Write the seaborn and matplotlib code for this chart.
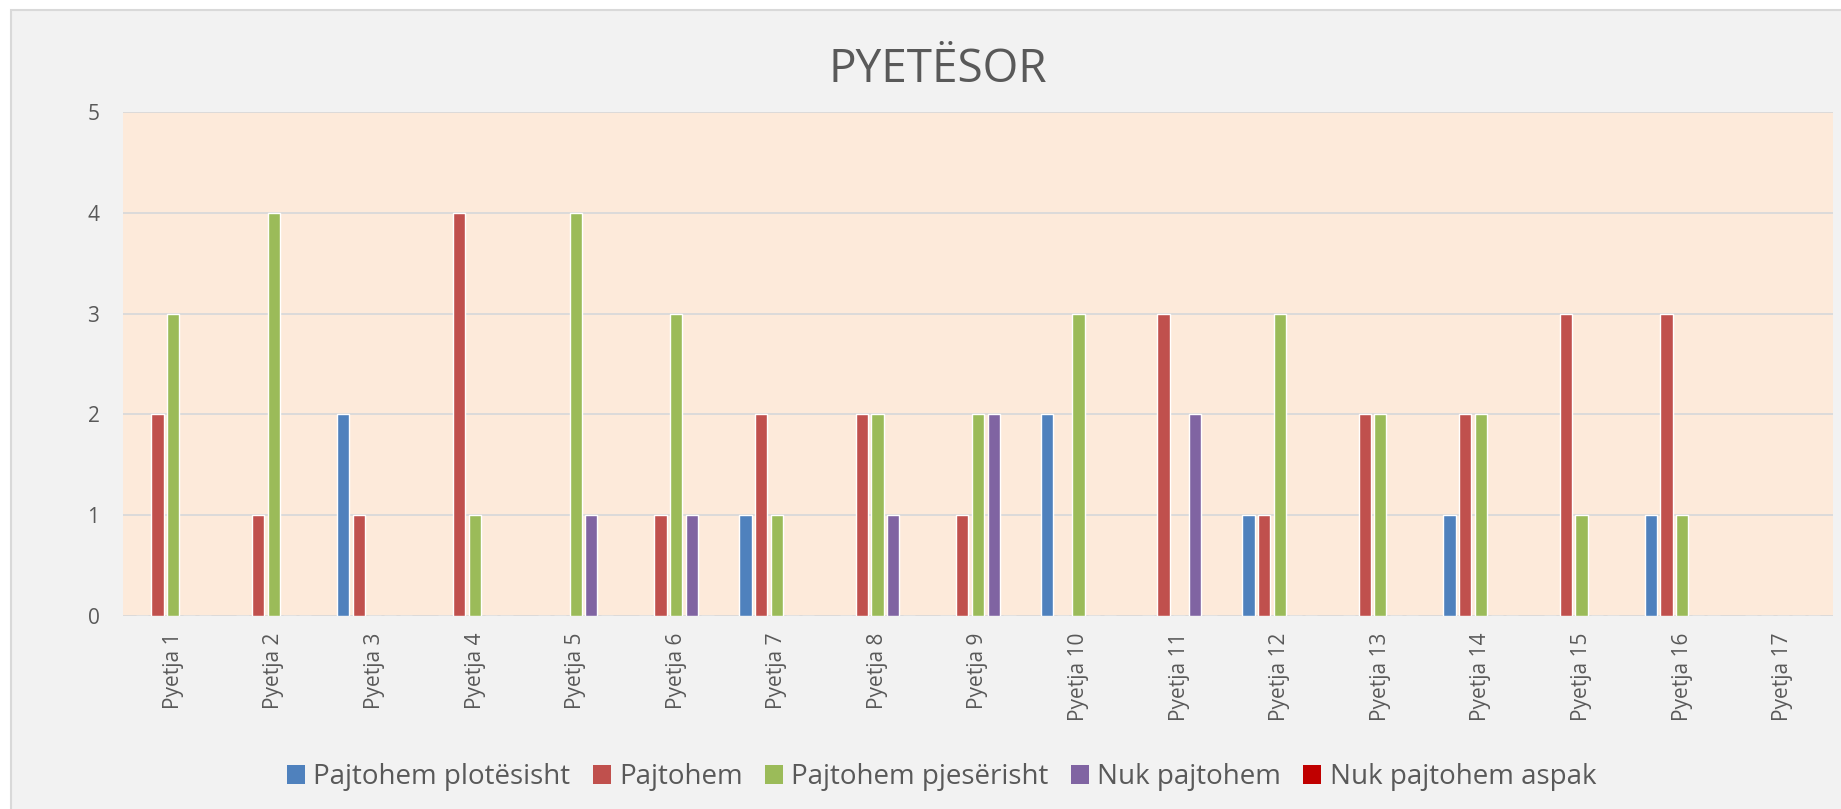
import matplotlib
matplotlib.use("Agg")
import matplotlib.pyplot as plt
import seaborn as sns
import pandas as pd
from matplotlib.patches import Rectangle, Patch

pyetjet = ["Pyetja 1", "Pyetja 2", "Pyetja 3", "Pyetja 4", "Pyetja 5", "Pyetja 6",
           "Pyetja 7", "Pyetja 8", "Pyetja 9", "Pyetja 10", "Pyetja 11", "Pyetja 12",
           "Pyetja 13", "Pyetja 14", "Pyetja 15", "Pyetja 16", "Pyetja 17"]

seria = ["Pajtohem plotësisht", "Pajtohem", "Pajtohem pjesërisht",
         "Nuk pajtohem", "Nuk pajtohem aspak"]

plotesisht = [0, 0, 2, 0, 0, 0, 1, 0, 0, 2, 0, 1, 0, 1, 0, 1, 0]
pajtohem = [2, 1, 1, 4, 0, 1, 2, 2, 1, 0, 3, 1, 2, 2, 3, 3, 0]
pjeserisht = [3, 4, 0, 1, 4, 3, 1, 2, 2, 3, 0, 3, 2, 2, 1, 1, 0]
nuk_pajtohem = [0, 0, 0, 0, 1, 1, 0, 1, 2, 0, 2, 0, 0, 0, 0, 0, 0]
aspak = [0, 0, 0, 0, 0, 0, 0, 0, 0, 0, 0, 0, 0, 0, 0, 0, 0]

ngjyrat = ["#4F81BD", "#C0504D", "#9BBB59", "#8064A2", "#C00000"]
teksti = "#595959"

rreshta = []
for emri, vlerat in zip(seria, [plotesisht, pajtohem, pjeserisht, nuk_pajtohem, aspak]):
    for p, v in zip(pyetjet, vlerat):
        rreshta.append({"pyetja": p, "pergjigja": emri, "vlera": v})
df = pd.DataFrame(rreshta)

sns.set_style("white")
plt.rcParams["font.family"] = ["Open Sans", "DejaVu Sans"]

W, H = 1841, 809
fig = plt.figure(figsize=(W / 100, H / 100), dpi=100, facecolor="white")

# panel gri i grafikut
fig.patches.append(Rectangle((11 / W, -0.02), 1.05, 1.02 - 10 / H,
                             transform=fig.transFigure, facecolor="#F2F2F2",
                             edgecolor="#D9D9D9", linewidth=1.5, zorder=-1))

ax = fig.add_axes([123 / W, 1 - 616 / H, (1833 - 123) / W, (616 - 112) / H])
ax.set_zorder(1)
ax.set_facecolor("#FDEADA")

sns.barplot(
    data=df,
    x="pyetja",
    y="vlera",
    hue="pergjigja",
    hue_order=seria,
    palette=ngjyrat,
    saturation=1,
    width=0.78,
    gap=0.22,
    legend=False,
    ax=ax,
)

ax.set_ylim(0, 5)
ax.set_xlim(-0.5, len(pyetjet) - 0.5)
ax.set_yticks(range(0, 6))
ax.grid(axis="y", color="#D9D9D9", linewidth=1.3)
ax.set_axisbelow(True)
for s in ax.spines.values():
    s.set_visible(False)

ax.tick_params(axis="x", length=0, pad=12, labelsize=15, labelcolor=teksti, rotation=90)
ax.tick_params(axis="y", length=0, pad=17, labelsize=15, labelcolor=teksti)
ax.set_xlabel("")
ax.set_ylabel("")

fig.text(937.5 / W, 1 - 82 / H, "PYETËSOR", fontsize=33, color=teksti,
         ha="center", va="baseline")

doreza = [Patch(facecolor=c, edgecolor="none", label=n) for c, n in zip(ngjyrat, seria)]
fig.legend(
    handles=doreza,
    loc="center",
    bbox_to_anchor=(941.5 / W, 1 - 777 / H),
    ncol=5,
    frameon=False,
    fontsize=20,
    labelcolor=teksti,
    handlelength=0.65,
    handleheight=0.65,
    handletextpad=0.3,
    columnspacing=0.8,
)

plt.savefig("out.png", dpi=100, facecolor=fig.get_facecolor())
